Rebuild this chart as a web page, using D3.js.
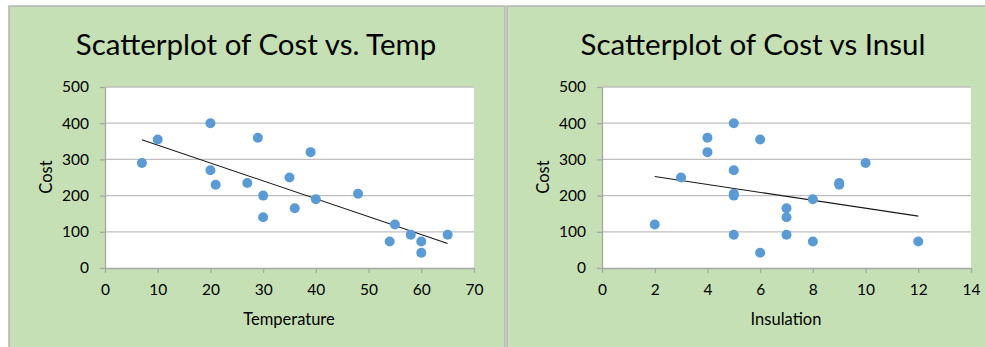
<!DOCTYPE html>
<html>
<head>
<meta charset="utf-8">
<script src="https://cdn.jsdelivr.net/npm/d3@7"></script>
<style>
  body { margin: 0; background: #fff; }
  svg { display: block; font-family: Lato, "Open Sans", sans-serif; }
  .grid line { stroke: #bfbfbf; stroke-width: 1.3; }
  .axis path, .axis line { stroke: #a6a6a6; stroke-width: 1.3; }
  .axis text { fill: #000; font-size: 15.5px; font-family: Lato, sans-serif; }
</style>
</head>
<body>
<div id="chart"></div>
<script>
var cost  = [290, 355, 400, 270, 230, 235, 360, 200, 140, 250, 165, 320, 190, 205, 73, 120, 92, 73, 42, 92];
var temp  = [7, 10, 20, 20, 21, 27, 29, 30, 30, 35, 36, 39, 40, 48, 54, 55, 58, 60, 60, 65];
var insul = [10, 6, 5, 5, 9, 9, 4, 5, 7, 3, 7, 4, 8, 5, 8, 2, 5, 12, 6, 7];

var costTicks  = [0, 100, 200, 300, 400, 500];
var tempTicks  = [0, 10, 20, 30, 40, 50, 60, 70];
var insulTicks = [0, 2, 4, 6, 8, 10, 12, 14];

var W = 985, H = 347;

var svg = d3.select("#chart").append("svg")
    .attr("width", W)
    .attr("height", H);

// panel backgrounds
svg.append("rect").attr("x", 9).attr("y", 6).attr("width", 496).attr("height", H)
    .attr("fill", "#c5e0b4").attr("stroke", "#b4b4b4").attr("stroke-width", 1.5);
svg.append("rect").attr("x", 507).attr("y", 6).attr("width", 490).attr("height", H)
    .attr("fill", "#c5e0b4").attr("stroke", "#b4b4b4").attr("stroke-width", 1.5);

// least squares line, same as excel's linear trendline
function fit(xs, ys) {
    var mx = d3.mean(xs), my = d3.mean(ys);
    var sxy = d3.sum(xs, function(d, i) { return (d - mx) * (ys[i] - my); });
    var sxx = d3.sum(xs, function(d) { return (d - mx) * (d - mx); });
    var b = sxy / sxx;
    return function(x) { return my + b * (x - mx); };
}

function drawScatter(opt) {
    var margin = {left: opt.left, top: 87};
    var width = 369, height = 181;

    var g = svg.append("g")
        .attr("transform", "translate(" + margin.left + "," + margin.top + ")");

    var x = d3.scaleLinear().domain(opt.xDomain).range([0, width]);
    var y = d3.scaleLinear().domain([0, 500]).range([height, 0]);

    g.append("rect").attr("width", width).attr("height", height).attr("fill", "#fff");

    // horizontal gridlines
    g.append("g").attr("class", "grid")
        .selectAll("line")
        .data(costTicks.slice(1))
        .enter().append("line")
        .attr("x1", 0).attr("x2", width)
        .attr("y1", function(d) { return y(d); })
        .attr("y2", function(d) { return y(d); });

    // Add the Y Axis
    g.append("g").attr("class", "axis")
        .call(d3.axisLeft(y).tickValues(costTicks).tickSize(5).tickPadding(11).tickSizeOuter(0));

    // Add the X Axis
    g.append("g").attr("class", "axis")
        .attr("transform", "translate(0," + height + ")")
        .call(d3.axisBottom(x).tickValues(opt.xTicks).tickSize(5).tickPadding(11).tickSizeOuter(0));

    // trendline across the data range
    var line = fit(opt.xs, cost);
    var ext = d3.extent(opt.xs);
    g.append("line")
        .attr("x1", x(ext[0])).attr("y1", y(line(ext[0])))
        .attr("x2", x(ext[1])).attr("y2", y(line(ext[1])))
        .attr("stroke", "#1a1a1a").attr("stroke-width", 1.1);

    g.append("g").selectAll("circle")
        .data(opt.xs)
        .enter().append("circle")
        .attr("cx", function(d) { return x(d); })
        .attr("cy", function(d, i) { return y(cost[i]); })
        .attr("r", 5)
        .attr("fill", "#5b9bd5");

    // titles
    svg.append("text")
        .attr("x", opt.titleX).attr("y", 55)
        .attr("text-anchor", "middle")
        .style("font-size", "29.5px")
        .text(opt.title);

    svg.append("text")
        .attr("x", margin.left + opt.xLabelX).attr("y", 325)
        .attr("text-anchor", "middle")
        .style("font-size", "16.5px")
        .text(opt.xLabel);

    svg.append("text")
        .attr("transform", "translate(" + opt.costX + ",177) rotate(-90)")
        .attr("text-anchor", "middle")
        .style("font-size", "16.5px")
        .text("Cost");
}

drawScatter({
    left: 105, xDomain: [0, 70], xTicks: tempTicks, xs: temp,
    title: "Scatterplot of Cost vs. Temp", titleX: 256,
    xLabel: "Temperature", xLabelX: 184, costX: 52
});

drawScatter({
    left: 602, xDomain: [0, 14], xTicks: insulTicks, xs: insul,
    title: "Scatterplot of Cost vs Insul", titleX: 753,
    xLabel: "Insulation", xLabelX: 184, costX: 549
});
</script>
</body>
</html>
